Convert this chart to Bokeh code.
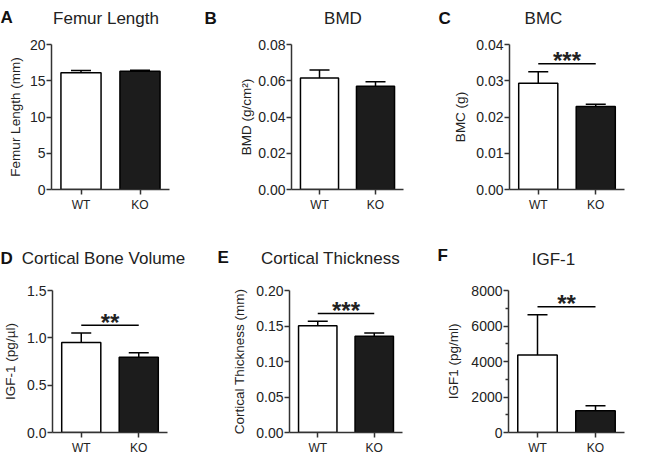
from bokeh.plotting import figure
from bokeh.models import (FactorRange, Range1d, FixedTicker, Whisker, TeeHead, Label,
                          ColumnDataSource, PrintfTickFormatter)
from bokeh.layouts import column, row
from bokeh.embed import file_html
from bokeh.resources import INLINE

# ---------------- data ----------------
groups = ["WT", "KO"]

panel_letters = ["A", "B", "C", "D", "E", "F"]
titles = ["Femur Length", "BMD", "BMC", "Cortical Bone Volume", "Cortical Thickness", "IGF-1"]
y_labels = ["Femur Length (mm)", "BMD (g/cm\u00b2)", "BMC (g)", "IGF-1 (pg/\u00b5l)",
            "Cortical Thickness (mm)", "IGF1 (pg/ml)"]

femur_mean = [16.1, 16.3]
femur_sem = [0.30, 0.15]
bmd_mean = [0.0615, 0.0570]
bmd_sem = [0.0044, 0.0024]
bmc_mean = [0.0293, 0.0229]
bmc_sem = [0.0032, 0.0006]
cbv_mean = [0.95, 0.795]
cbv_sem = [0.10, 0.047]
ct_mean = [0.1503, 0.1356]
ct_sem = [0.0063, 0.0044]
igf_mean = [4360, 1230]
igf_sem = [2280, 280]

means = [femur_mean, bmd_mean, bmc_mean, cbv_mean, ct_mean, igf_mean]
sems = [femur_sem, bmd_sem, bmc_sem, cbv_sem, ct_sem, igf_sem]

y_max = [20, 0.08, 0.04, 1.5, 0.20, 8000]
y_ticks = [[0, 5, 10, 15, 20],
           [0, 0.02, 0.04, 0.06, 0.08],
           [0, 0.01, 0.02, 0.03, 0.04],
           [0, 0.5, 1.0, 1.5],
           [0, 0.05, 0.10, 0.15, 0.20],
           [0, 2000, 4000, 6000, 8000]]
tick_formats = ["%d", "%.2f", "%.2f", "%.1f", "%.2f", "%d"]
show_minor = [False, False, False, False, False, True]
significance = ["", "", "***", "**", "***", "**"]

# ---------------- styles / geometry ----------------
FONT = "Liberation Sans"
TXT = "#222222"
AX = "#333333"
fills = ["white", "#1c1c1c"]
PAGE_W = 651

# header strips (page y of top, height)
header_geom = [(0, 27), (228, 44)]
# panel figures: width, height, border left/right/top/bottom
geom = [
    (217, 201, 51, 48, 17, 39),
    (217, 201, 74, 31, 8, 39),
    (217, 201, 75, 27, 8, 39),
    (217, 185, 51, 50, 14, 22),
    (217, 185, 72, 32, 14, 22),
    (217, 185, 74, 27, 18, 22),
]
# page positions: title centre x / text middle y, letter left x / text middle y
title_pos = [(105.5, 17.5), (342.5, 18), (543, 17.5), (103, 258), (330, 258), (553, 259)]
letter_pos = [(0, 16.5), (204, 17.5), (438, 17.5), (0, 258), (217, 256.5), (437, 255)]
ylabel_standoff = [4, 1, 5, 6, 6, 7]


def make_header(r):
    top, h = header_geom[r]
    hp = figure(width=PAGE_W, height=h, x_range=Range1d(0, PAGE_W), y_range=Range1d(0, h),
                x_axis_location=None, y_axis_location=None, min_border=0,
                output_backend="svg", toolbar_location=None,
                background_fill_color="white", border_fill_color="white")
    hp.outline_line_color = None
    hp.grid.visible = False
    for i in range(3 * r, 3 * r + 3):
        tx, ty = title_pos[i]
        hp.add_layout(Label(x=tx, y=h - (ty - top), x_units="screen", y_units="screen",
                            text=titles[i], text_align="center", text_baseline="middle",
                            text_font=FONT, text_font_size="17px", text_color=TXT))
        lx, ly = letter_pos[i]
        hp.add_layout(Label(x=lx, y=h - (ly - top), x_units="screen", y_units="screen",
                            text=panel_letters[i], text_align="left", text_baseline="middle",
                            text_font=FONT, text_font_size="17px", text_font_style="bold",
                            text_color="#111111"))
    return hp


def make_panel(i):
    W, H, bl, br, bt, bb = geom[i]
    p = figure(width=W, height=H, x_range=FactorRange(*groups, range_padding=0),
               y_range=Range1d(0, y_max[i]), output_backend="svg", toolbar_location=None,
               min_border_left=bl, min_border_right=br, min_border_top=bt, min_border_bottom=bb,
               background_fill_color="white", border_fill_color="white")
    p.outline_line_color = None
    p.grid.visible = False

    upper = [m + s for m, s in zip(means[i], sems[i])]
    src = ColumnDataSource(dict(group=groups, mean=means[i], upper=upper, fill=fills))
    p.vbar(x="group", top="mean", width=0.68, source=src, fill_color="fill",
           line_color="black", line_width=1.5)
    wh = Whisker(source=src, base="group", lower="mean", upper="upper",
                 line_color="black", line_width=1.5,
                 upper_head=TeeHead(size=20, line_color="black", line_width=1.5),
                 lower_head=None)
    p.add_layout(wh)

    ticks = y_ticks[i]
    minor = [(a + b) / 2 for a, b in zip(ticks[:-1], ticks[1:])] if show_minor[i] else []
    p.yaxis.ticker = FixedTicker(ticks=ticks, minor_ticks=minor)
    p.yaxis.formatter = PrintfTickFormatter(format=tick_formats[i])
    for ax in (p.xaxis, p.yaxis):
        ax.axis_line_color = AX
        ax.axis_line_width = 1.5
        ax.major_tick_line_color = AX
        ax.major_tick_line_width = 1.5
        ax.major_tick_in = 0
        ax.major_tick_out = 5
        ax.minor_tick_in = 0
        ax.minor_tick_out = 3
        ax.minor_tick_line_color = AX
        ax.minor_tick_line_width = 1.5
        ax.major_label_text_font = FONT
        ax.major_label_text_color = TXT
    p.yaxis.major_label_text_font_size = "14px"
    p.yaxis.major_label_standoff = 1
    p.yaxis.axis_label = y_labels[i]
    p.yaxis.axis_label_text_font = FONT
    p.yaxis.axis_label_text_font_size = "13.5px"
    p.yaxis.axis_label_text_font_style = "normal"
    p.yaxis.axis_label_text_color = TXT
    p.yaxis.axis_label_standoff = ylabel_standoff[i]
    p.xaxis.major_label_text_font_size = "12px"
    p.xaxis.major_label_standoff = 3
    p.xaxis.minor_tick_line_color = None

    if significance[i]:
        sy = max(upper) + 0.055 * y_max[i]
        p.segment(x0=[groups[0]], y0=[sy], x1=[groups[1]], y1=[sy],
                  line_color="black", line_width=1.5)
        p.add_layout(Label(x=1.0, y=sy, text=significance[i], text_align="center",
                           text_baseline="alphabetic", y_offset=3,
                           text_font=FONT, text_font_size="24px", text_font_style="bold",
                           text_color=TXT))
    return p


panels = [make_panel(i) for i in range(6)]
layout = column(make_header(0), row(*panels[:3]), make_header(1), row(*panels[3:]))

open("out.html", "w").write(file_html(layout, INLINE))
